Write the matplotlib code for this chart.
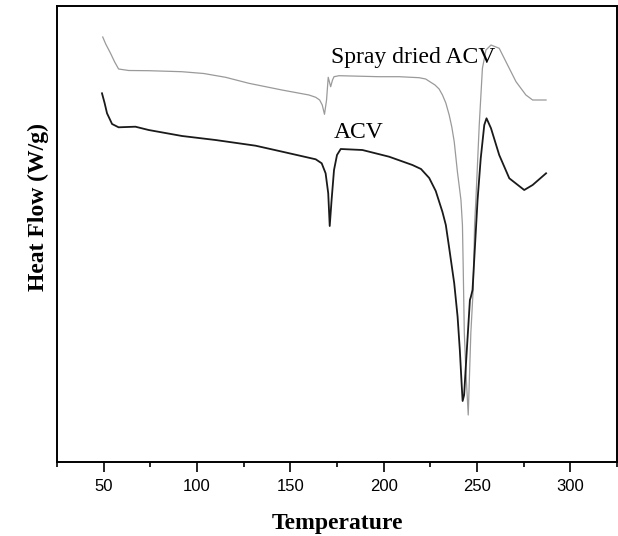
import matplotlib
matplotlib.use("Agg")
import matplotlib.pyplot as plt
from matplotlib.ticker import MultipleLocator

# Temperature (deg C) and heat flow (arbitrary W/g offsets)
temp_spray = [49.5, 51.1, 53.6, 55.9, 58.0, 63.4, 74.1, 91.8, 103.6, 115.3, 127.8, 145.5,
              160.0, 163.6, 165.7, 167.1, 168.3, 169.4, 170.3, 171.6, 172.6, 173.4, 176.1,
              197.5, 208.3, 219.0, 222.5, 225.0, 227.5, 229.7, 231.5, 233.3, 235.1, 236.5,
              237.8, 239.5, 240.4, 241.4, 242.2, 242.6, 243.2, 244.1, 245.3, 246.7, 248.0,
              248.7, 249.4, 251.2, 252.9, 254.8, 257.5, 261.9, 265.5, 270.9, 276.2,
              279.8, 287.0]
hf_spray = [4.25, 4.18, 4.09, 4.00, 3.93, 3.915, 3.913, 3.903, 3.885, 3.847, 3.787, 3.72,
            3.67, 3.647, 3.62, 3.57, 3.477, 3.62, 3.847, 3.753, 3.82, 3.853, 3.863,
            3.853, 3.853, 3.843, 3.83, 3.80, 3.77, 3.73, 3.67, 3.59, 3.47, 3.35,
            3.203, 2.903, 2.77, 2.62, 2.37, 1.96, 1.29, 0.89, 0.47, 1.29, 1.74,
            2.37, 2.62, 3.37, 3.937, 4.12, 4.17, 4.137, 4.003, 3.803, 3.67,
            3.62, 3.62]

temp_acv = [49.1, 50.5, 51.8, 54.5, 58.0, 67.0, 74.1, 92.0, 109.9, 131.4, 145.7, 163.6,
            166.8, 168.9, 170.3, 171.1, 172.1, 173.4, 175.0, 177.0, 188.6, 202.9, 215.4,
            220.0, 224.4, 227.9, 231.5, 233.3, 235.1, 237.8, 239.6, 240.8, 241.8, 242.3,
            243.1, 244.0, 246.2, 246.7, 247.6, 250.3, 252.0, 253.9, 255.1, 257.5, 261.9,
            267.3, 275.3, 279.8, 287.0]
hf_acv = [3.687, 3.59, 3.487, 3.38, 3.347, 3.353, 3.32, 3.26, 3.22, 3.163, 3.103, 3.027,
          2.987, 2.887, 2.687, 2.36, 2.62, 2.92, 3.07, 3.13, 3.12, 3.053, 2.97,
          2.93, 2.84, 2.71, 2.50, 2.37, 2.14, 1.787, 1.453, 1.12, 0.77, 0.61,
          0.67, 0.953, 1.62, 1.65, 1.72, 2.62, 3.037, 3.37, 3.437, 3.337, 3.07,
          2.837, 2.72, 2.77, 2.887]

x_ticks = [50, 100, 150, 200, 250, 300]
label_spray = "Spray dried ACV"
label_acv = "ACV"

serif = ["Liberation Serif", "DejaVu Serif"]
sans = ["Liberation Sans", "DejaVu Sans"]

fig = plt.figure(figsize=(6.18, 5.36), dpi=100)
ax = fig.add_axes([57 / 618, (536 - 462) / 536, (617 - 57) / 618, (462 - 6) / 536])

ax.plot(temp_spray, hf_spray, color="#9a9a9a", lw=0.9)
ax.plot(temp_acv, hf_acv, color="#1a1a1a", lw=1.3)

ax.text(171.8, 3.99, label_spray, family=serif, fontsize=17, va="baseline", ha="left")
ax.text(173.4, 3.24, label_acv, family=serif, fontsize=17, va="baseline", ha="left")

ax.set_xlim(25, 325)
ax.set_ylim(0, 4.56)
ax.set_xticks(x_ticks)
ax.xaxis.set_minor_locator(MultipleLocator(25))
ax.set_yticks([])
ax.tick_params(axis="x", which="major", direction="out", length=7, width=1.2, pad=5)
ax.tick_params(axis="x", which="minor", direction="out", length=3.5, width=1.2)
for lab in ax.get_xticklabels():
    lab.set_family(sans)
    lab.set_fontsize(12)
for s in ax.spines.values():
    s.set_linewidth(1.4)

ax.set_xlabel("Temperature", family=serif, fontsize=17, fontweight="bold", labelpad=14)
ax.set_ylabel("Heat Flow (W/g)", family=serif, fontsize=17, fontweight="bold")
ax.yaxis.set_label_coords(-0.015, 0.56)

fig.savefig("out.png", dpi=100)
